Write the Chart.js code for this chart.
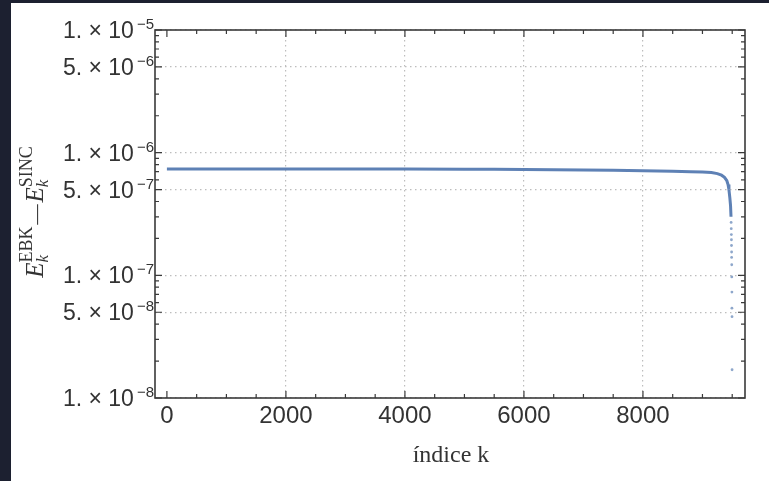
<!DOCTYPE html>
<html>
<head>
<meta charset="utf-8">
<script src="https://cdn.jsdelivr.net/npm/chart.js@4.4.1/dist/chart.umd.min.js"></script>
<style>
  html, body { margin: 0; padding: 0; background: #1c2030; }
  #panel { position: absolute; left: 11px; top: 3px; width: 758px; height: 478px; background: #fff; }
</style>
</head>
<body>
<div id="panel"><canvas id="diff-chart" width="758" height="478"></canvas></div>
<script>
// diferença entre as energias EBK e SINC para cada índice k
const indexK = [0, 500, 1000, 2000, 3000, 4000, 5000, 5500, 6000, 6500, 7000, 7500, 8000, 8500, 8800, 9000, 9150, 9250, 9320, 9370, 9410, 9430, 9445, 9460, 9472, 9480];
const energyDiff = [7.36e-7, 7.36e-7, 7.36e-7, 7.36e-7, 7.35e-7, 7.35e-7, 7.34e-7, 7.32e-7, 7.28e-7, 7.25e-7, 7.22e-7, 7.18e-7, 7.12e-7, 7.06e-7, 7.0e-7, 6.95e-7, 6.88e-7, 6.75e-7, 6.55e-7, 6.3e-7, 5.9e-7, 5.5e-7, 5.0e-7, 4.3e-7, 3.7e-7, 3.0e-7];

// últimos estados: pontos soltos onde a diferença despenca
const tailK = [9482, 9484, 9486, 9487, 9488, 9490, 9490, 9492, 9493, 9495, 9495, 9497, 9498];
const tailDiff = [2.7e-7, 2.4e-7, 2.15e-7, 1.95e-7, 1.75e-7, 1.55e-7, 1.4e-7, 1.22e-7, 9.7e-8, 7.3e-8, 5.4e-8, 4.6e-8, 1.7e-8];

const xLabelTicks = [0, 2000, 4000, 6000, 8000];
const xMinorTicks = [500, 1000, 1500, 2500, 3000, 3500, 4500, 5000, 5500, 6500, 7000, 7500, 8500, 9000, 9500];
const yLabelTicks = [1e-8, 5e-8, 1e-7, 5e-7, 1e-6, 5e-6, 1e-5];
const yDecades = [-8, -7, -6];

const lineColor = "#5e81b5";
const frameColor = "#3a3a3a";
const textColor = "#333333";
const gridColor = "#bdbdbd";

// marcas menores do eixo log (2..9 vezes cada década)
const yMinorTicks = [];
for (const d of yDecades) {
	for (let m = 2; m <= 9; m++) {
		if (m !== 5) yMinorTicks.push(m * Math.pow(10, d));
	}
}

function drawRuns(ctx, runs, x0) {
	let x = x0;
	for (const run of runs) {
		let adv = 0;
		for (const part of run) {
			ctx.font = part.font;
			ctx.fillText(part.text, x, part.dy);
			adv = Math.max(adv, ctx.measureText(part.text).width);
		}
		x += adv + (run.gap || 0);
	}
	return x;
}

function runsWidth(ctx, runs) {
	let w = 0;
	for (const run of runs) {
		let adv = 0;
		for (const part of run) {
			ctx.font = part.font;
			adv = Math.max(adv, ctx.measureText(part.text).width);
		}
		w += adv + (run.gap || 0);
	}
	return w;
}

const frameAndLabels = {
	id: "frameAndLabels",
	afterDraw(chart) {
		const { ctx, chartArea: a, scales } = chart;
		const x = scales.x;
		const y = scales.y;
		ctx.save();

		// marcas para dentro nos quatro lados
		ctx.strokeStyle = frameColor;
		ctx.lineWidth = 1.2;
		ctx.beginPath();
		const yTick = (v, len) => {
			const py = y.getPixelForValue(v);
			ctx.moveTo(a.left, py); ctx.lineTo(a.left + len, py);
			ctx.moveTo(a.right, py); ctx.lineTo(a.right - len, py);
		};
		const xTick = (v, len) => {
			const px = x.getPixelForValue(v);
			ctx.moveTo(px, a.bottom); ctx.lineTo(px, a.bottom - len);
			ctx.moveTo(px, a.top); ctx.lineTo(px, a.top + len);
		};
		yLabelTicks.forEach((v) => yTick(v, 7));
		yMinorTicks.forEach((v) => yTick(v, 4));
		xLabelTicks.forEach((v) => xTick(v, 7));
		xMinorTicks.forEach((v) => xTick(v, 4));
		ctx.stroke();

		ctx.lineWidth = 1.6;
		ctx.strokeRect(a.left, a.top, a.right - a.left, a.bottom - a.top);

		// rótulos do eixo y no formato 1. × 10^n
		ctx.fillStyle = textColor;
		ctx.textBaseline = "alphabetic";
		ctx.textAlign = "right";
		for (const v of yLabelTicks) {
			const exp = Math.floor(Math.log10(v) + 1e-9);
			const mant = Math.round(v / Math.pow(10, exp));
			const py = y.getPixelForValue(v);
			const sup = "\u2212" + (-exp);
			ctx.font = '15px "Liberation Sans"';
			const supW = ctx.measureText(sup).width;
			ctx.fillText(sup, a.left - 1, py - 1);
			ctx.font = '23px "Liberation Sans"';
			ctx.fillText(mant + ". \u00d7 10", a.left - 4 - supW, py + 8);
		}

		// título do eixo x
		ctx.textAlign = "center";
		ctx.font = '24px "Liberation Serif"';
		ctx.fillText("índice k", 440, 459);

		// título do eixo y: E_k^EBK − E_k^SINC
		const big = 'italic 25px "Liberation Serif"';
		const small = '18px "Liberation Serif"';
		const smallIt = 'italic 17px "Liberation Serif"';
		const runs = [
			[{ text: "E", font: big, dy: 0 }],
			Object.assign([{ text: "EBK", font: small, dy: -11 }, { text: "k", font: smallIt, dy: 5 }], { gap: 2 }),
			Object.assign([{ text: "\u2014", font: '20px "Liberation Serif"', dy: 0 }], { gap: 2 }),
			[{ text: "E", font: big, dy: 0 }],
			[{ text: "SINC", font: small, dy: -11 }, { text: "k", font: smallIt, dy: 5 }],
		];
		ctx.translate(32, 209);
		ctx.rotate(-Math.PI / 2);
		ctx.textAlign = "left";
		drawRuns(ctx, runs, -runsWidth(ctx, runs) / 2);

		ctx.restore();
	},
};

new Chart(document.getElementById("diff-chart"), {
	type: "scatter",
	data: {
		datasets: [
			{
				data: indexK.map((k, i) => ({ x: k, y: energyDiff[i] })),
				showLine: true,
				borderColor: lineColor,
				borderWidth: 3,
				pointRadius: 0,
				tension: 0,
			},
			{
				data: tailK.map((k, i) => ({ x: k, y: tailDiff[i] })),
				showLine: false,
				pointRadius: 1.4,
				pointBorderWidth: 0,
				backgroundColor: "rgba(94, 129, 181, 0.7)",
			},
		],
	},
	options: {
		responsive: false,
		animation: false,
		devicePixelRatio: 1,
		layout: { padding: { top: 27, right: 24, left: 0, bottom: 0 } },
		plugins: { legend: { display: false }, tooltip: { enabled: false } },
		scales: {
			x: {
				type: "linear",
				min: -200,
				max: 9715,
				afterBuildTicks: (s) => { s.ticks = xLabelTicks.map((v) => ({ value: v })); },
				afterFit: (s) => { s.height = 83; },
				border: { display: false, dash: [1.5, 3.5] },
				grid: {
					drawTicks: false,
					color: (c) => (c.tick && c.tick.value === 0 ? "transparent" : gridColor),
					lineWidth: 1.2,
				},
				ticks: {
					padding: 4,
					color: textColor,
					font: { family: "Liberation Sans", size: 24 },
					maxRotation: 0,
					callback: (v) => String(v),
				},
			},
			y: {
				type: "logarithmic",
				min: 1e-8,
				max: 1e-5,
				afterBuildTicks: (s) => { s.ticks = yLabelTicks.map((v) => ({ value: v })); },
				afterFit: (s) => { s.width = 144; },
				border: { display: false, dash: [1.5, 3.5] },
				grid: { drawTicks: false, color: gridColor, lineWidth: 1.2 },
				ticks: { display: false },
			},
		},
	},
	plugins: [frameAndLabels],
});
</script>
</body>
</html>
